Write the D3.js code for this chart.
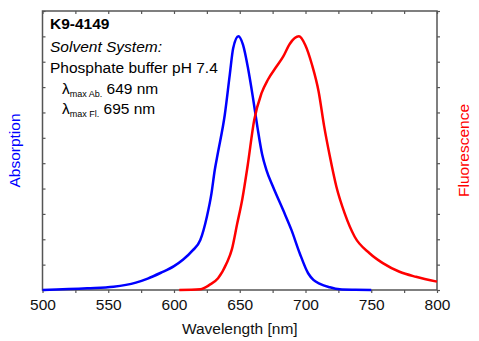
<!DOCTYPE html>
<html lang='en'>
<head>
   <meta charset='UTF-8'>
   <title>K9-4149 spectra</title>
   <script src='https://d3js.org/d3.v7.min.js'></script>
   <style>
      body { margin: 0; background: #fff; }
      svg { display: block; font-family: 'Liberation Sans', Arial, sans-serif; }
   </style>
</head>
<body>
   <div id='chart'></div>
   <script>
      // absorption (blue), wavelength in nm / relative intensity
      const absNm = [500, 534, 554, 571, 580, 590, 600, 607, 614, 620, 625, 628.5, 631, 633.5, 638.6, 642.4, 645, 649, 652.5, 656.3, 660.1, 663.5, 667, 670.3, 675.3, 683, 689.3, 695.6, 702, 706, 711, 718.4, 726, 738, 750];
      const absVal = [0, 0.07, 0.13, 0.29, 0.45, 0.68, 0.94, 1.2, 1.55, 1.97, 2.89, 3.81, 4.73, 5.44, 6.9, 8.48, 9.53, 10, 9.66, 8.74, 7.56, 6.4, 5.35, 4.73, 4.07, 3.15, 2.37, 1.45, 0.66, 0.4, 0.24, 0.11, 0.03, 0.01, 0];
      // fluorescence (red)
      const fluNm = [604, 620, 627, 633.5, 640, 644, 648, 652, 656, 661, 666.5, 671.5, 677.8, 683, 688, 695, 699.8, 705, 710, 714.2, 718.4, 723.5, 729.8, 737.4, 748.7, 758.8, 771.5, 784, 800];
      const fluVal = [0, 0.03, 0.2, 0.46, 1.05, 1.6, 2.6, 3.6, 4.9, 6.7, 7.75, 8.3, 8.8, 9.2, 9.7, 10, 9.66, 8.87, 7.82, 6.45, 5.3, 4.07, 3.02, 2.1, 1.45, 1.06, 0.72, 0.52, 0.33];
      const xTicks = [500, 550, 600, 650, 700, 750, 800];
      const infoLines = ['K9-4149', 'Solvent System:', 'Phosphate buffer pH 7.4'];

      const W = 479, H = 341;
      const svg = d3.select('#chart').append('svg').attr('width', W).attr('height', H);

      const x = d3.scaleLinear().domain([500, 800]).range([42.5, 437]);
      const y = d3.scaleLinear().domain([0, 11]).range([290, 11]);

      const frameCol = '#555';

      // frame
      svg.append('rect')
         .attr('x', x(500)).attr('y', y(11))
         .attr('width', x(800) - x(500)).attr('height', y(0) - y(11))
         .attr('fill', 'none').attr('stroke', frameCol).attr('stroke-width', 1.5);

      const minor = d3.range(500, 801, 25);
      const styleAxis = g => {
         g.select('.domain').remove();
         g.selectAll('.tick line').attr('stroke', frameCol).attr('stroke-width', 1.2);
      };

      // bottom axis with labels
      svg.append('g').attr('transform', `translate(0,${y(0)})`)
         .call(d3.axisBottom(x).tickValues(minor).tickSize(3).tickPadding(6)
            .tickFormat(d => xTicks.includes(d) ? d : ''))
         .call(styleAxis)
         .call(g => g.selectAll('text').attr('font-size', 15.5).attr('fill', '#111').attr('font-family', 'Liberation Sans, Arial, sans-serif'));

      // top axis, ticks inward
      svg.append('g').attr('transform', `translate(0,${y(11)})`)
         .call(d3.axisBottom(x).tickValues(minor).tickSize(3).tickFormat(''))
         .call(styleAxis);

      const yt = d3.range(0, 12);
      svg.append('g').attr('transform', `translate(${x(500)},0)`)
         .call(d3.axisRight(y).tickValues(yt).tickSize(3).tickFormat(''))
         .call(styleAxis);
      svg.append('g').attr('transform', `translate(${x(800)},0)`)
         .call(d3.axisRight(y).tickValues(yt).tickSize(3).tickFormat(''))
         .call(styleAxis);

      // curves
      const line = d3.line().x(d => x(d[0])).y(d => y(d[1])).curve(d3.curveMonotoneX);
      svg.append('path').datum(absNm.map((n, i) => [n, absVal[i]]))
         .attr('d', line).attr('fill', 'none').attr('stroke', '#0000ff').attr('stroke-width', 2.5);
      svg.append('path').datum(fluNm.map((n, i) => [n, fluVal[i]]))
         .attr('d', line).attr('fill', 'none').attr('stroke', '#ff0000').attr('stroke-width', 2.5);

      // info text
      const fs = 15.5;
      svg.append('text').attr('x', 50).attr('y', 29).attr('font-size', fs).attr('font-weight', 'bold').text(infoLines[0]);
      svg.append('text').attr('x', 50).attr('y', 52).attr('font-size', fs).attr('font-style', 'italic').text(infoLines[1]);
      svg.append('text').attr('x', 50).attr('y', 73).attr('font-size', fs).text(infoLines[2]);

      const lam = [['max Ab.', ' 649 nm', 94], ['max Fl.', ' 695 nm', 114]];
      lam.forEach(([sub, val, yy]) => {
         const t = svg.append('text').attr('x', 62).attr('y', yy).attr('font-size', fs);
         t.append('tspan').text('λ');
         t.append('tspan').attr('font-size', 9).attr('dy', 3).text(sub);
         t.append('tspan').attr('dy', -3).text(val);
      });

      // axis titles
      svg.append('text').attr('x', x(650)).attr('y', 334).attr('text-anchor', 'middle')
         .attr('font-size', 15.5).attr('fill', '#111').text('Wavelength [nm]');
      svg.append('text').attr('transform', `translate(20,${y(5.5)}) rotate(-90)`)
         .attr('text-anchor', 'middle').attr('font-size', 15.5).attr('fill', '#0000ff').text('Absorption');
      svg.append('text').attr('transform', `translate(469,${y(5.5)}) rotate(-90)`)
         .attr('text-anchor', 'middle').attr('font-size', 15.5).attr('fill', '#ff0000').text('Fluorescence');
   </script>
</body>
</html>
